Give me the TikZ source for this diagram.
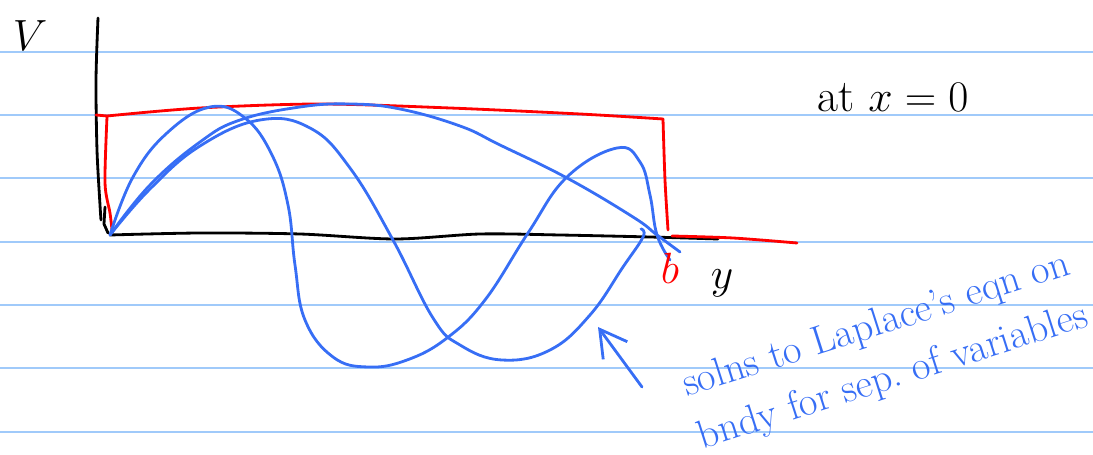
\documentclass[tikz,border=0pt]{standalone}
\usepackage{amsmath}
\usepackage{xcolor}
\definecolor{ruleBlue}{RGB}{160, 202, 250}
\definecolor{penBlue}{RGB}{55, 110, 245}
\usepackage{tikz}
\usetikzlibrary{arrows.meta}

\begin{document}
\begin{tikzpicture}[x=0.02cm, y=-0.02cm,
  rule/.style={draw=ruleBlue, line width=1.1pt},
  ink/.style={line width=1.6pt, line cap=round, line join=round},
  wave/.style={ink, draw=penBlue},
  arr/.style={ink, draw=penBlue, -{Straight Barb[length=15pt, width=17pt, line width=1.6pt]}},
  lbl/.style={font=\fontsize{26}{28}\selectfont, inner sep=0pt},
  note/.style={text=penBlue, font=\fontsize{23}{31}\selectfont, align=center, rotate=17.7, inner sep=0pt}
]
\useasboundingbox (0,0) rectangle (1093,455);
\foreach \ry in {52,115,178,242,305,368,432}
  \draw[rule] (0,\ry) -- (1093,\ry);

\coordinate (O) at (110,235);
\draw[ink] plot[smooth] coordinates {(98,18) (96,80) (97,150) (100,205) (101,220)};
\draw[ink] (105,207) -- (104,224) -- (108,233);
\draw[ink] plot[smooth] coordinates {(O) (200,233) (300,234) (395,239) (480,234) (560,235) (650,237) (718,239)};

\draw[ink, red] (96,115) -- (107,116);
\draw[ink, red] plot[smooth] coordinates {(107,117) (105,183) (110,213) (112,230)};
\draw[ink, red] plot[smooth] coordinates {(107,116) (200,108) (320,104) (450,108) (580,114) (663,119)};
\draw[ink, red] plot[smooth] coordinates {(663,119) (665,180) (668,230)};
\draw[ink, red] plot[smooth] coordinates {(672,236) (733,238) (797,243)};

\draw[wave] plot[smooth, tension=0.7] coordinates {(O) (150,185) (200,142) (240,120) (300,107) (350,104) (400,109) (460,126) (500,145) (567,178) (633,217) (657,235) (680,252)};
\draw[wave] plot[smooth, tension=0.7] coordinates {(O) (150,189) (200,146) (260,120) (310,128) (350,168) (393,240) (433,318) (460,345) (502,360) (550,350) (590,315) (623,267) (643,237) (641,229)};
\draw[wave] plot[smooth, tension=0.7] coordinates {(O) (133,177) (167,133) (210,107) (245,118) (272,155) (288,205) (295,265) (305,320) (333,357) (368,367) (407,360) (447,338) (485,300) (528,233) (567,177) (617,148) (640,162) (650,195) (657,235) (670,260)};

\node[lbl]            (V)    at (30,36)  {$V$};
\node[lbl]            (yax)  at (722,283) {$y$};
\node[lbl, text=red]  (b)    at (670,268) {$b$};
\node[lbl]            (at)   at (893,98) {at $x=0$};

\node[note] (sol) at (885,352) {solns to Laplace's eqn on\\bndy for sep.\ of variables};
\coordinate (tail) at (642,387);
\coordinate (tip)  at (598,327);
\draw[arr] (tail) -- (tip);
\end{tikzpicture}
\end{document}
